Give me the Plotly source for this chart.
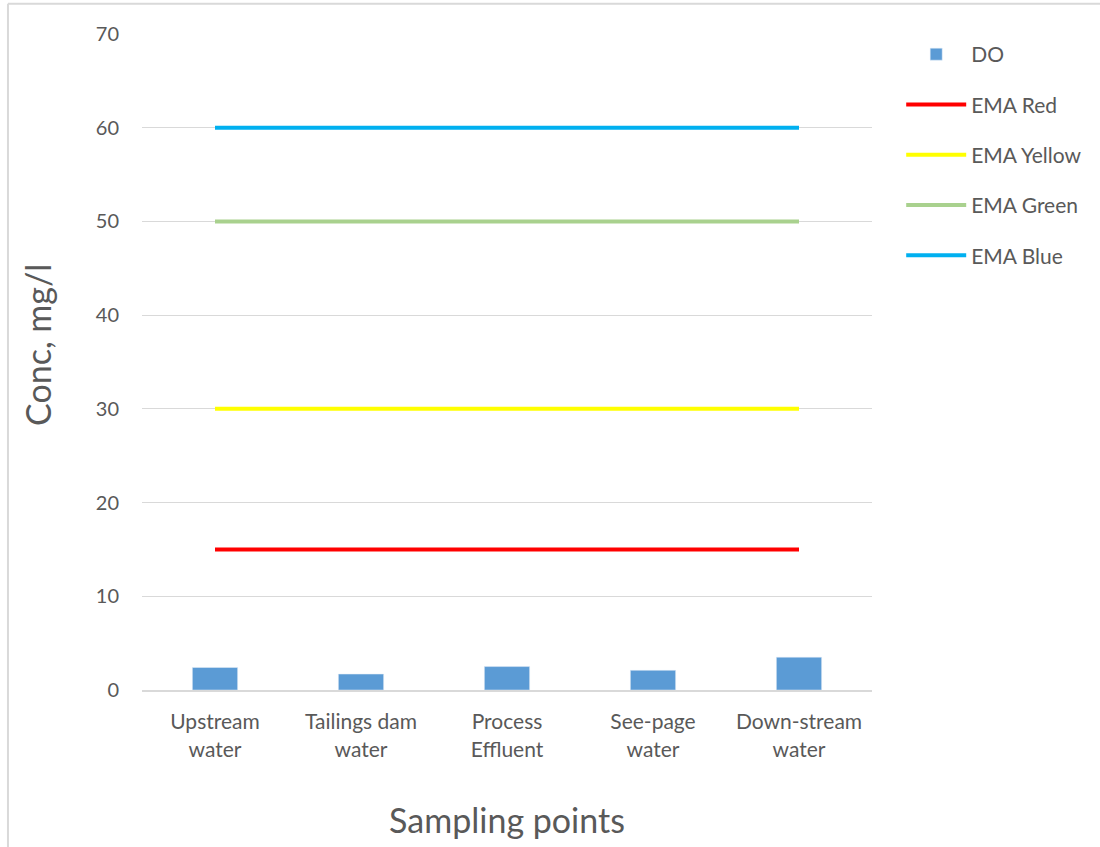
import plotly.graph_objects as go

categories = ["Upstream<br>water", "Tailings dam<br>water", "Process<br>Effluent", "See-page<br>water", "Down-stream<br>water"]
do_values = [2.4, 1.7, 2.5, 2.1, 3.5]
ema_red = [15, 15, 15, 15, 15]
ema_yellow = [30, 30, 30, 30, 30]
ema_green = [50, 50, 50, 50, 50]
ema_blue = [60, 60, 60, 60, 60]
y_ticks = [0, 10, 20, 30, 40, 50, 60, 70]

FONT = "Lato"
GRAY = "#595959"

fig = go.Figure()
fig.add_trace(go.Bar(x=categories, y=do_values, name="DO", marker=dict(color="#5B9BD5"),
                     width=0.31, legendgroup="a"))
line_specs = [("EMA Red", ema_red, "#FF0000", "b"),
              ("EMA Yellow", ema_yellow, "#FFFF00", "c"),
              ("EMA Green", ema_green, "#A9D18E", "d"),
              ("EMA Blue", ema_blue, "#00B0F0", "e")]
for name, vals, col, g in line_specs:
    fig.add_trace(go.Scatter(x=categories, y=vals, name=name, mode="lines",
                             line=dict(color=col, width=4), legendgroup=g))

fig.update_layout(
    width=1100, height=847,
    margin=dict(l=142, r=228, t=34, b=157, autoexpand=False),
    plot_bgcolor="white", paper_bgcolor="white",
    font=dict(family=FONT, color=GRAY, size=18),
    bargap=0.69,
    legend=dict(x=1.04, y=1.0, yanchor="top", xanchor="left",
                font=dict(family=FONT, size=21, color=GRAY),
                tracegroupgap=20, itemwidth=60),
    showlegend=True,
    shapes=[
        dict(type="line", xref="paper", yref="paper", x0=-0.1836, x1=-0.1836, y0=1.046, y1=-0.3,
             line=dict(color="#d9d9d9", width=2)),
        dict(type="line", xref="paper", yref="paper", x0=-0.1836, x1=1.4, y0=1.046, y1=1.046,
             line=dict(color="#d9d9d9", width=2)),
    ],
    annotations=[
        dict(text="Conc, mg/l", xref="paper", yref="paper", x=-0.1425, y=0.526,
             xanchor="center", yanchor="middle", textangle=-90, showarrow=False,
             font=dict(family=FONT, size=34, color=GRAY)),
    ],
)
fig.update_xaxes(
    type="category", showgrid=False, showline=True, linecolor="#d9d9d9", linewidth=2,
    automargin=False,
    ticks="", ticklabelstandoff=12, tickfont=dict(family=FONT, size=21, color=GRAY),
    title=dict(text="Sampling points", font=dict(family=FONT, size=34, color=GRAY), standoff=50),
)
fig.update_yaxes(
    range=[0, 70], tickvals=y_ticks, showgrid=True, gridcolor="#d9d9d9", gridwidth=1,
    automargin=False,
    zeroline=False, showline=False, ticks="", ticklabelstandoff=22,
    tickfont=dict(family=FONT, size=20, color=GRAY),
)

fig.write_html("out.html")
